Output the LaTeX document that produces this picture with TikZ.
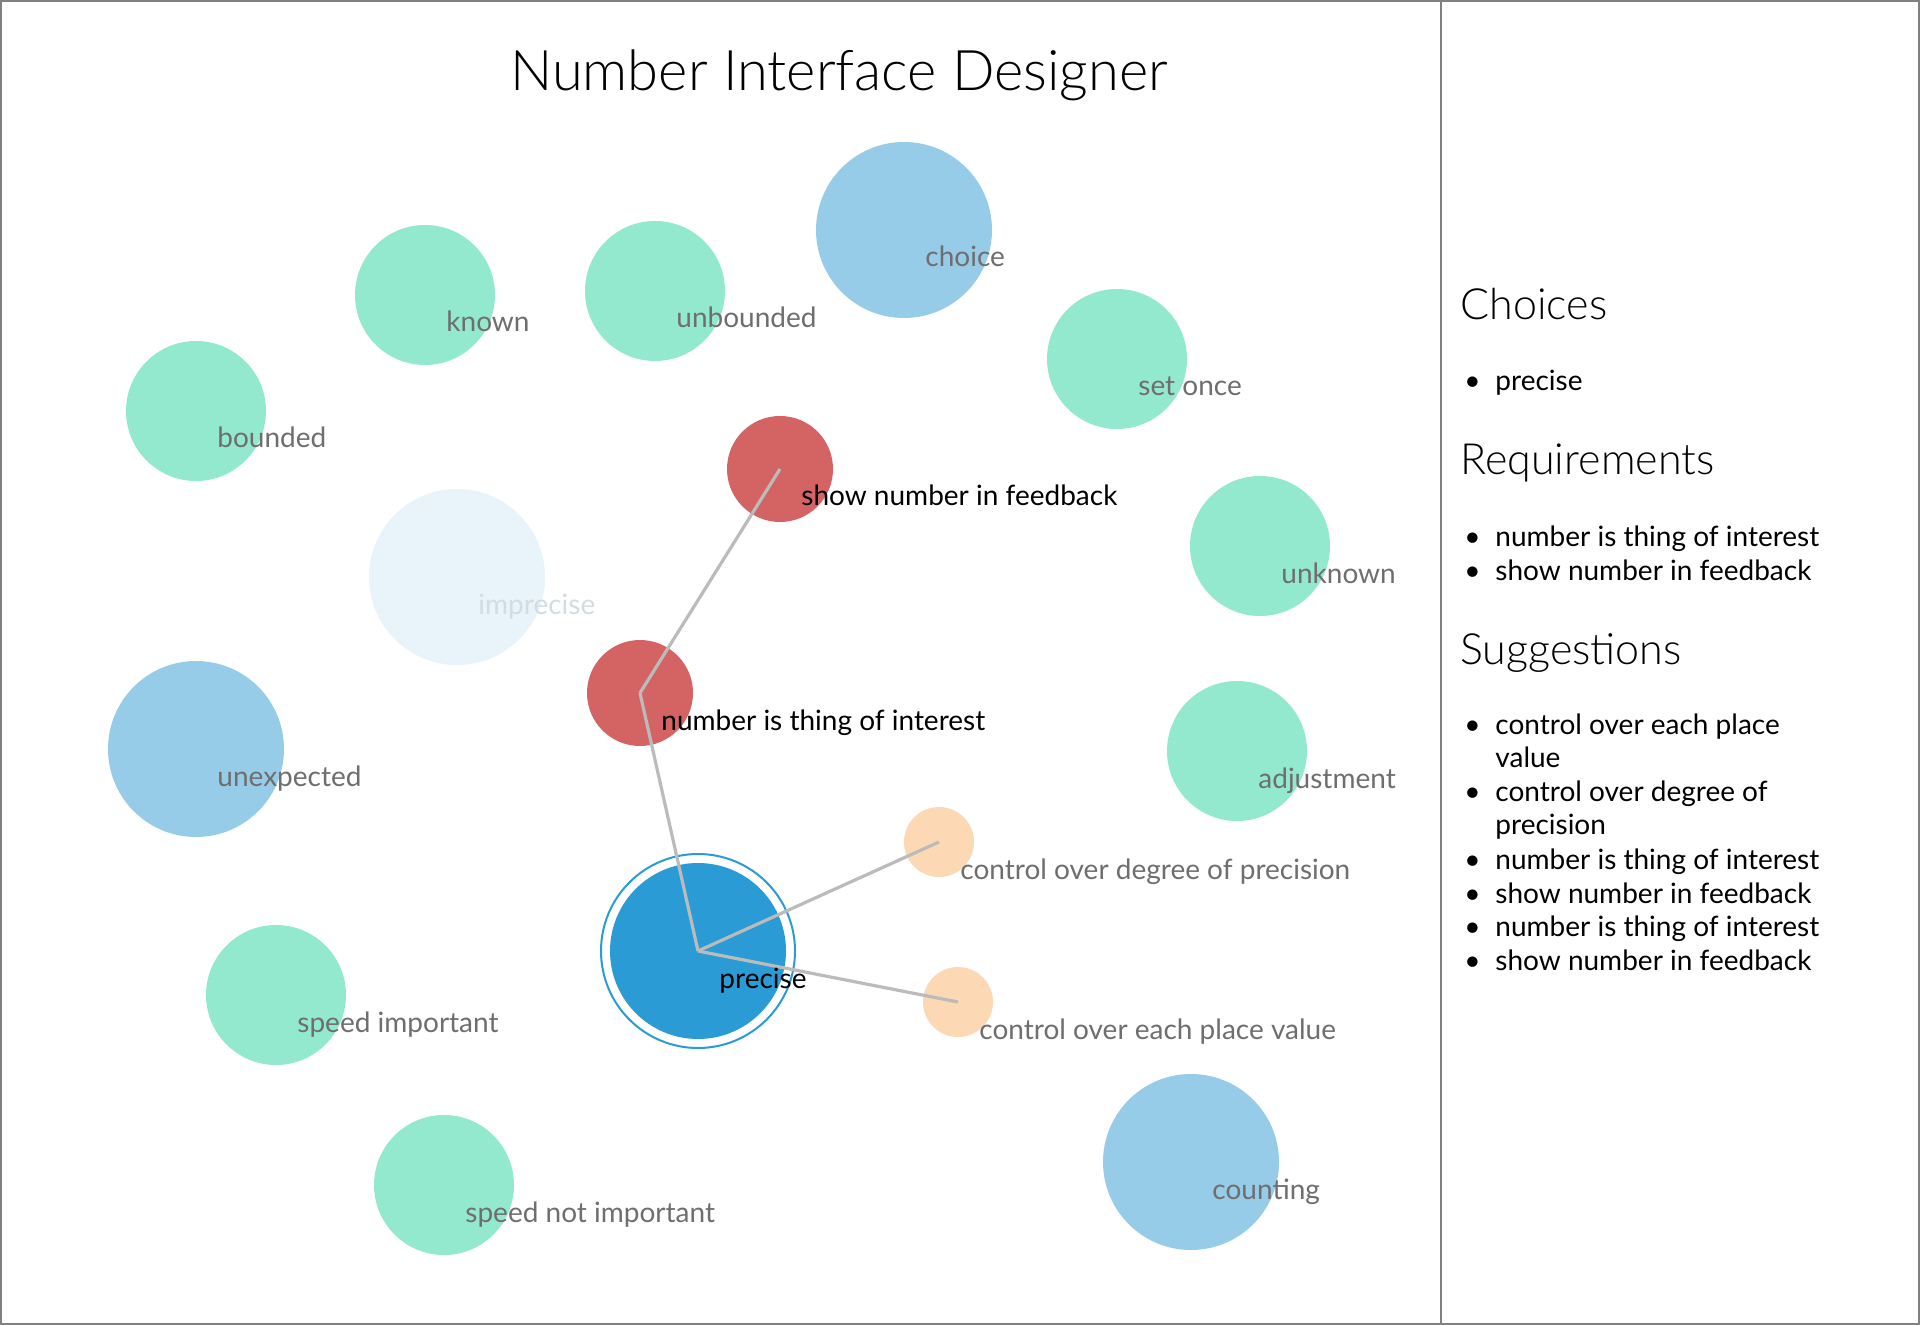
\documentclass[tikz,border=0pt]{standalone}
\usepackage{fontspec}
\setmainfont{Lato}
\newfontfamily\lightfont{Lato Light}
\definecolor{cgreen}{RGB}{147,233,206}
\definecolor{cblue}{RGB}{151,204,232}
\definecolor{cred}{RGB}{212,100,100}
\definecolor{corange}{RGB}{253,216,181}
\definecolor{cprec}{RGB}{43,155,213}
\definecolor{cimp}{RGB}{232,243,250}
\definecolor{clabel}{RGB}{110,110,110}
\definecolor{cimplabel}{RGB}{210,220,226}
\definecolor{cline}{RGB}{187,187,187}
\definecolor{cframe}{RGB}{128,128,128}
\tikzset{
  bub/.style={circle, inner sep=0pt, draw=none},
  gbub/.style={bub, fill=cgreen, minimum size=70pt},
  bbub/.style={bub, fill=cblue, minimum size=88pt},
  rbub/.style={bub, fill=cred, minimum size=53pt},
  obub/.style={bub, fill=corange, minimum size=35pt},
  lbl/.style={anchor=base west, inner sep=0pt, font=\fontsize{14pt}{16pt}\selectfont, text=clabel},
  dlbl/.style={lbl, text=black},
  link/.style={draw=cline, line width=1.6pt},
  itm/.style={anchor=base west, inner sep=0pt, font=\fontsize{14pt}{16pt}\selectfont, text=black},
  head/.style={anchor=base west, inner sep=0pt, font=\lightfont\fontsize{21.5pt}{26pt}\selectfont, text=black},
}
\begin{document}
\begin{tikzpicture}[x=0.5pt, y=-0.5pt]
\useasboundingbox (0,0) rectangle (1920,1325);
\fill[white] (0,0) rectangle (1920,1325);
\draw[cframe, line width=1pt] (1,1) rectangle (1919,1324);
\draw[cframe, line width=1pt] (1441,0) -- (1441,1325);

\node[anchor=base, inner sep=0pt, font=\lightfont\fontsize{28pt}{34pt}\selectfont] (title) at (839,91) {Number Interface Designer};

% bubbles
\node[bbub] (choice) at (904,230) {};
\node[gbub] (known) at (425,295) {};
\node[gbub] (unbounded) at (655,291) {};
\node[gbub] (bounded) at (196,411) {};
\node[gbub] (setonce) at (1117,359) {};
\node[gbub] (unknown) at (1260,546) {};
\node[bub, fill=cimp, minimum size=88pt] (imprecise) at (457,577) {};
\node[bbub] (unexpected) at (196,749) {};
\node[gbub] (adjustment) at (1237,751) {};
\node[gbub] (speedimp) at (276,995) {};
\node[gbub] (speednot) at (444,1185) {};
\node[bbub] (counting) at (1191,1162) {};
\node[rbub] (show) at (780,469) {};
\node[rbub] (numint) at (640,693) {};
\node[obub] (degree) at (939,842) {};
\node[obub] (place) at (958,1002) {};
\node[bub, draw=cprec, line width=1pt, minimum size=97pt] (precring) at (698,951) {};
\node[bub, fill=cprec, minimum size=88pt] (precise) at (698,951) {};

% links
\draw[link] (precise.center) -- (numint.center);
\draw[link] (numint.center) -- (show.center);
\draw[link] (precise.center) -- (degree.center);
\draw[link] (precise.center) -- (place.center);

% labels
\node[lbl] (l-choice) at (925,267) {choice};
\node[lbl] (l-known) at (446,332) {known};
\node[lbl] (l-unbounded) at (676,328) {unbounded};
\node[lbl] (l-bounded) at (217,448) {bounded};
\node[lbl] (l-setonce) at (1138,396) {set once};
\node[lbl] (l-unknown) at (1281,583) {unknown};
\node[lbl, text=cimplabel] (l-imprecise) at (478,614) {imprecise};
\node[lbl] (l-unexpected) at (217,786) {unexpected};
\node[lbl] (l-adjustment) at (1258,788) {adjustment};
\node[lbl] (l-speedimp) at (297,1032) {speed important};
\node[lbl] (l-speednot) at (465,1222) {speed not important};
\node[lbl] (l-counting) at (1212,1199) {counting};
\node[dlbl] (l-show) at (801,506) {show number in feedback};
\node[dlbl] (l-numint) at (661,730) {number is thing of interest};
\node[lbl] (l-degree) at (960,879) {control over degree of precision};
\node[lbl] (l-place) at (979,1039) {control over each place value};
\node[dlbl] (l-precise) at (719,988) {precise};

% side panel
\node[head] (h-choices) at (1460,320) {Choices};
\node[itm] (b1) at (1464,391) {•};
\node[itm] (i1) at (1495,391) {precise};
\node[head] (h-req) at (1460,475) {Requirements};
\node[itm] (b2) at (1464,547) {•};
\node[itm] (i2) at (1495,547) {number is thing of interest};
\node[itm] (b3) at (1464,581) {•};
\node[itm] (i3) at (1495,581) {show number in feedback};
\node[head] (h-sug) at (1460,664) {Suggestions};
\node[itm] (b4) at (1464,734) {•};
\node[itm] (i4) at (1495,734) {control over each place};
\node[itm] (i4b) at (1495,767) {value};
\node[itm] (b5) at (1464,801) {•};
\node[itm] (i5) at (1495,801) {control over degree of};
\node[itm] (i5b) at (1495,834) {precision};
\node[itm] (b6) at (1464,869) {•};
\node[itm] (i6) at (1495,869) {number is thing of interest};
\node[itm] (b7) at (1464,903) {•};
\node[itm] (i7) at (1495,903) {show number in feedback};
\node[itm] (b8) at (1464,936) {•};
\node[itm] (i8) at (1495,936) {number is thing of interest};
\node[itm] (b9) at (1464,970) {•};
\node[itm] (i9) at (1495,970) {show number in feedback};
\end{tikzpicture}
\end{document}
